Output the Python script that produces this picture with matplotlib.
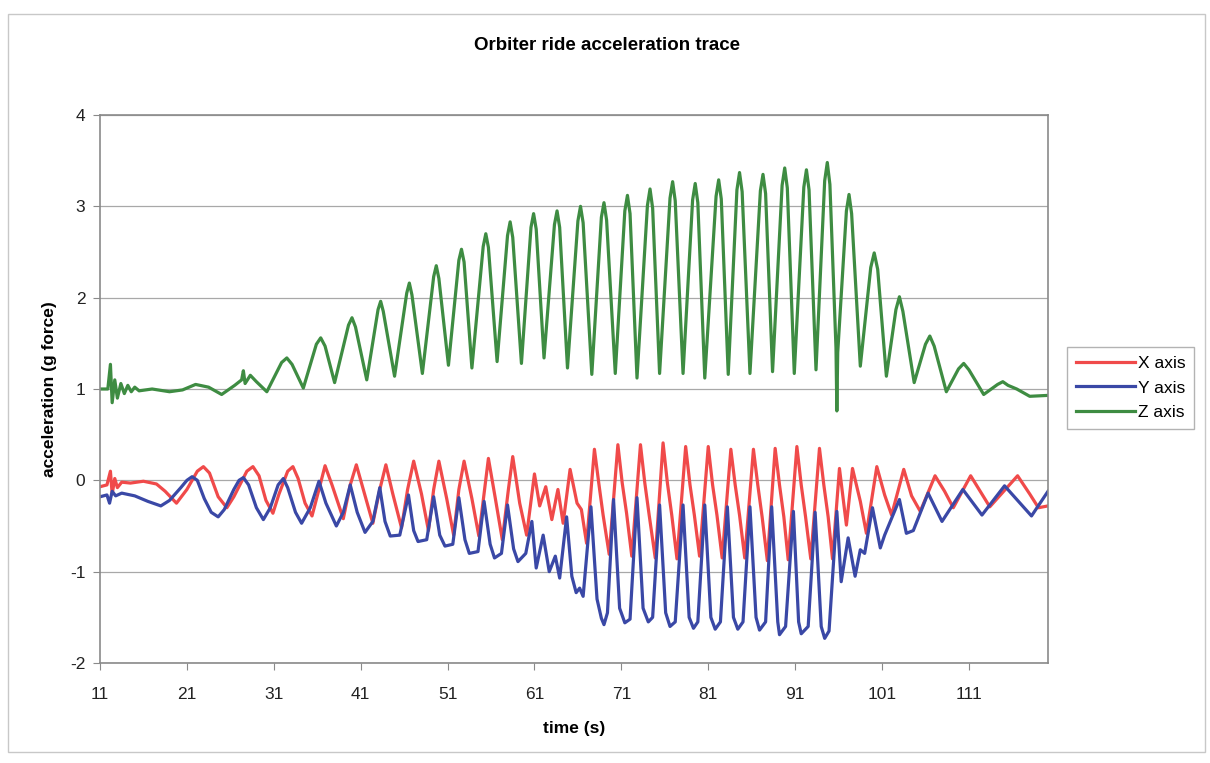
import matplotlib
matplotlib.use("Agg")
import matplotlib.pyplot as plt
from matplotlib.patches import Rectangle

plt.rcParams['font.family'] = ['Liberation Sans', 'DejaVu Sans']
plt.rcParams['axes.unicode_minus'] = False

# values (time in s, acceleration in g)
z_time = [11.0, 11.9, 12.2, 12.4, 12.7, 13.0, 13.4, 13.8, 14.2, 14.6, 15.0, 15.5,
          17.0, 19.0,
          20.5, 22.0, 23.5, 25.0, 26.5, 27.3, 27.5, 27.7, 28.3, 29.0, 30.2,
          31.9, 32.5, 33.1, 34.4, 35.9, 36.4, 36.9, 38.0, 39.6, 40.0, 40.4, 41.7,
          43.0, 43.3, 43.6, 44.9, 46.3, 46.6, 46.9, 48.1, 49.4, 49.7, 50.0, 51.1,
          52.3, 52.6, 52.9, 53.8, 55.1, 55.4, 55.7, 56.7, 57.9, 58.2, 58.5, 59.5,
          60.6, 60.9, 61.2, 62.1, 63.3, 63.6, 63.9, 64.8, 66.0, 66.3, 66.6, 67.6,
          68.7, 69.0, 69.3, 70.3, 71.4, 71.7, 72.0, 72.8, 74.0, 74.3, 74.6, 75.4,
          76.6, 76.9, 77.2, 78.1, 79.2, 79.5, 79.8, 80.6, 81.9, 82.2, 82.5, 83.3,
          84.3, 84.6, 84.9, 85.8, 87.0, 87.3, 87.6, 88.4, 89.5, 89.8, 90.1, 90.9,
          92.0, 92.3, 92.6, 93.4, 94.4, 94.7, 95.0, 95.7, 95.8, 95.9, 96.9, 97.2,
          97.5, 98.5, 99.7, 100.1, 100.5, 101.5, 102.6, 103.0, 103.4, 104.7, 106.0,
          106.5, 107.0, 108.4, 109.8, 110.4, 111.0, 112.7, 114.3, 114.9, 115.5,
          116.5, 118.0, 120.1]
z_vals = [1.00, 1.00, 1.27, 0.85, 1.10, 0.90, 1.06, 0.95, 1.04, 0.97, 1.02, 0.98,
          1.00, 0.97,
          0.99, 1.05, 1.02, 0.94, 1.04, 1.10, 1.20, 1.06, 1.15, 1.08, 0.97,
          1.29, 1.34, 1.27, 1.01, 1.49, 1.56, 1.47, 1.07, 1.70, 1.78, 1.68, 1.10,
          1.87, 1.96, 1.85, 1.14, 2.05, 2.16, 2.03, 1.17, 2.23, 2.35, 2.21, 1.26,
          2.41, 2.53, 2.39, 1.23, 2.56, 2.70, 2.55, 1.30, 2.68, 2.83, 2.66, 1.28,
          2.77, 2.92, 2.75, 1.34, 2.80, 2.95, 2.77, 1.23, 2.84, 3.00, 2.82, 1.16,
          2.88, 3.04, 2.85, 1.17, 2.95, 3.12, 2.92, 1.12, 3.01, 3.19, 2.98, 1.17,
          3.09, 3.27, 3.06, 1.17, 3.07, 3.25, 3.04, 1.12, 3.11, 3.29, 3.08, 1.16,
          3.18, 3.37, 3.16, 1.17, 3.17, 3.35, 3.14, 1.19, 3.23, 3.42, 3.20, 1.17,
          3.21, 3.40, 3.18, 1.21, 3.28, 3.48, 3.24, 1.45, 0.76, 1.40, 2.95, 3.13,
          2.92, 1.25, 2.33, 2.49, 2.31, 1.14, 1.87, 2.01, 1.85, 1.07, 1.49,
          1.58, 1.47, 0.97, 1.22, 1.28, 1.21, 0.94, 1.05, 1.08, 1.04,
          1.00, 0.92, 0.93]

x_time = [11.0, 11.8, 12.2, 12.4, 12.7, 13.0, 13.5, 14.5, 16.0, 17.5, 18.5, 19.8,
          21.0, 22.2, 22.9, 23.6, 24.6, 25.6, 26.4, 27.9, 28.6, 29.3, 30.1, 30.9,
          31.6, 32.6, 33.2, 33.8, 34.6, 35.4,
          36.2, 36.9, 37.7, 39.0, 39.8, 40.5, 41.3, 42.4, 43.2, 43.9, 44.7, 45.7,
          46.4, 47.1, 48.0, 48.8, 49.4, 50.0, 50.9, 51.7, 52.3, 52.9, 53.8, 54.6,
          55.2, 55.7, 56.5, 57.3, 58.0, 58.5, 59.3, 60.1, 61.0, 61.6, 62.3, 63.0,
          63.7, 64.3, 65.1, 65.9, 66.4, 67.0, 67.9, 68.4, 68.9, 69.6, 70.6, 71.1,
          71.6, 72.2, 73.2, 73.7, 74.2, 74.9, 75.8, 76.3, 76.8, 77.4, 78.4, 78.9,
          79.4, 80.0, 81.0, 81.5, 82.0, 82.6, 83.6, 84.1, 84.6, 85.2, 86.2, 86.7,
          87.2, 87.8, 88.7, 89.2, 89.7, 90.2, 91.2, 91.7, 92.2, 92.8, 93.8, 94.3,
          94.8, 95.3, 96.1, 96.9, 97.6, 98.5, 99.2, 100.4, 101.3, 102.1, 103.5,
          104.4, 105.4, 107.1, 108.2, 109.2, 111.2, 112.3, 113.4, 116.6, 118.0,
          119.0, 120.1]
x_vals = [-0.07, -0.05, 0.10, -0.15, 0.02, -0.08, -0.02, -0.03, -0.01, -0.04, -0.12, -0.25,
          -0.10, 0.10, 0.15, 0.08, -0.18, -0.30, -0.18, 0.10, 0.15, 0.05, -0.22, -0.36,
          -0.15, 0.10, 0.15, 0.02, -0.25, -0.39,
          -0.10, 0.16, -0.05, -0.42, -0.05, 0.17, -0.10, -0.47, -0.10, 0.17, -0.15, -0.52,
          -0.10, 0.21, -0.15, -0.55, -0.10, 0.21, -0.20, -0.60, -0.10, 0.21, -0.20, -0.61,
          -0.15, 0.24, -0.20, -0.65, -0.10, 0.26, -0.25, -0.60, 0.07, -0.28, -0.07, -0.43,
          -0.10, -0.47, 0.12, -0.25, -0.32, -0.69, 0.34, -0.03, -0.38, -0.81, 0.39, -0.03,
          -0.36, -0.83, 0.39, -0.03, -0.38, -0.85, 0.41, -0.03, -0.38, -0.86, 0.37, -0.05,
          -0.38, -0.83, 0.37, -0.05, -0.38, -0.85, 0.34, -0.05, -0.38, -0.85, 0.34, -0.05,
          -0.40, -0.88, 0.35, -0.05, -0.40, -0.87, 0.37, -0.05, -0.40, -0.86, 0.35, -0.05,
          -0.40, -0.86, 0.13, -0.49, 0.13, -0.23, -0.58, 0.15, -0.16, -0.38, 0.12,
          -0.17, -0.34, 0.05, -0.12, -0.30, 0.05, -0.12, -0.29, 0.05, -0.15,
          -0.30, -0.28]

y_time = [11.0, 11.8, 12.1, 12.4, 12.8, 13.5, 15.0, 16.5, 18.0, 19.0, 20.3, 21.0,
          21.6, 22.2, 23.0, 23.8, 24.6, 25.3, 26.4, 27.0, 27.5, 28.1, 29.0, 29.8,
          30.6, 31.5, 32.1, 32.6, 33.5, 34.2,
          35.2, 36.2, 37.0, 38.2, 39.0, 39.8, 40.6, 41.5, 42.4, 43.2, 43.8, 44.4,
          45.5, 46.5, 47.1, 47.6, 48.6, 49.4, 50.1, 50.7, 51.6, 52.3, 53.0, 53.5,
          54.5, 55.2, 55.9, 56.4, 57.2, 57.9, 58.6, 59.1, 60.0, 60.7, 61.2, 62.0,
          62.7, 63.4, 63.9, 64.7, 65.3, 65.8, 66.2, 66.6, 67.5, 68.2, 68.7, 69.0,
          69.4, 70.1, 70.8, 71.4, 72.0, 72.8, 73.5, 74.1, 74.6, 75.4, 76.1, 76.6,
          77.2, 78.1, 78.8, 79.3, 79.8, 80.6, 81.3, 81.8, 82.4, 83.2, 83.9, 84.4,
          85.0, 85.8, 86.5, 86.9, 87.6, 88.3, 89.0, 89.2, 89.9, 90.8, 91.4, 91.7,
          92.5, 93.3, 94.0, 94.4, 94.9, 95.8, 96.3, 97.1, 97.9, 98.5, 99.0, 99.9,
          100.8, 101.3, 103.0, 103.8, 104.6, 106.3, 107.9, 110.3, 112.5, 115.1,
          118.2, 120.1]
y_vals = [-0.18, -0.16, -0.25, -0.12, -0.17, -0.14, -0.17, -0.23, -0.28, -0.22, -0.08, 0.00,
          0.04, 0.00, -0.20, -0.35, -0.40, -0.32, -0.10, 0.00, 0.03, -0.05, -0.30, -0.43,
          -0.30, -0.05, 0.02, -0.08, -0.35, -0.47,
          -0.30, -0.01, -0.25, -0.50, -0.35, -0.05, -0.35, -0.57, -0.45, -0.08, -0.45, -0.61,
          -0.60, -0.16, -0.55, -0.67, -0.65, -0.18, -0.60, -0.72, -0.70, -0.19, -0.65, -0.80,
          -0.78, -0.23, -0.70, -0.85, -0.80, -0.27, -0.75, -0.89, -0.80, -0.45, -0.96, -0.60,
          -1.00, -0.83, -1.07, -0.40, -1.05, -1.23, -1.18, -1.27, -0.29, -1.30, -1.51, -1.58,
          -1.45, -0.21, -1.40, -1.56, -1.52, -0.19, -1.40, -1.55, -1.50, -0.27, -1.45, -1.60,
          -1.55, -0.27, -1.50, -1.62, -1.55, -0.27, -1.50, -1.63, -1.55, -0.29, -1.50, -1.63,
          -1.55, -0.29, -1.50, -1.64, -1.55, -0.29, -1.55, -1.69, -1.60, -0.34, -1.55, -1.68,
          -1.60, -0.35, -1.60, -1.73, -1.65, -0.34, -1.11, -0.63, -1.05, -0.76, -0.80, -0.30,
          -0.74, -0.60, -0.21, -0.58, -0.55, -0.14, -0.45, -0.10, -0.38, -0.06,
          -0.39, -0.12]

fig = plt.figure(figsize=(12.1, 7.63), dpi=100)
ax = fig.add_axes([100 / 1210, 1 - 663 / 763, 948 / 1210, 548 / 763])

ax.plot(x_time, x_vals, color="#F04A4A", lw=2.3, label="X axis")
ax.plot(y_time, y_vals, color="#3A48A6", lw=2.3, label="Y axis")
ax.plot(z_time, z_vals, color="#3E8C42", lw=2.3, label="Z axis")

ax.set_xlim(11, 120.1)
ax.set_ylim(-2, 4)
ax.set_xticks(range(11, 112, 10))
ax.set_yticks(range(-2, 5))
ax.yaxis.grid(True, color="#A8A8A8", lw=0.9)
ax.set_axisbelow(True)
for s in ax.spines.values():
    s.set_color("#8A8A8A")
    s.set_linewidth(1.2)
ax.tick_params(direction="out", length=5, color="#8A8A8A", labelsize=12.5, pad=5.5,
               labelcolor="#222222")
ax.tick_params(axis="x", pad=12)

ax.set_xlabel("time (s)", fontsize=12.5, fontweight="bold", labelpad=14)
ax.set_ylabel("acceleration (g force)", fontsize=12.5, fontweight="bold", labelpad=9)
fig.text(607 / 1210, 1 - 45 / 763, "Orbiter ride acceleration trace", ha="center",
         va="center", fontsize=13.5, fontweight="bold")

fig.legend(loc="upper left", bbox_to_anchor=(1067 / 1210, 1 - 347 / 763),
           fontsize=12.5, frameon=True, fancybox=False, edgecolor="#A0A0A0",
           handlelength=3.4, handletextpad=0.2, borderpad=0.5, labelspacing=0.55,
           borderaxespad=0)

fig.patches.append(Rectangle((8 / 1210, 1 - 752 / 763), 1197 / 1210, 738 / 763,
                             transform=fig.transFigure, fill=False,
                             edgecolor="#C8C8C8", lw=1.0))

fig.savefig("out.png", dpi=100)
